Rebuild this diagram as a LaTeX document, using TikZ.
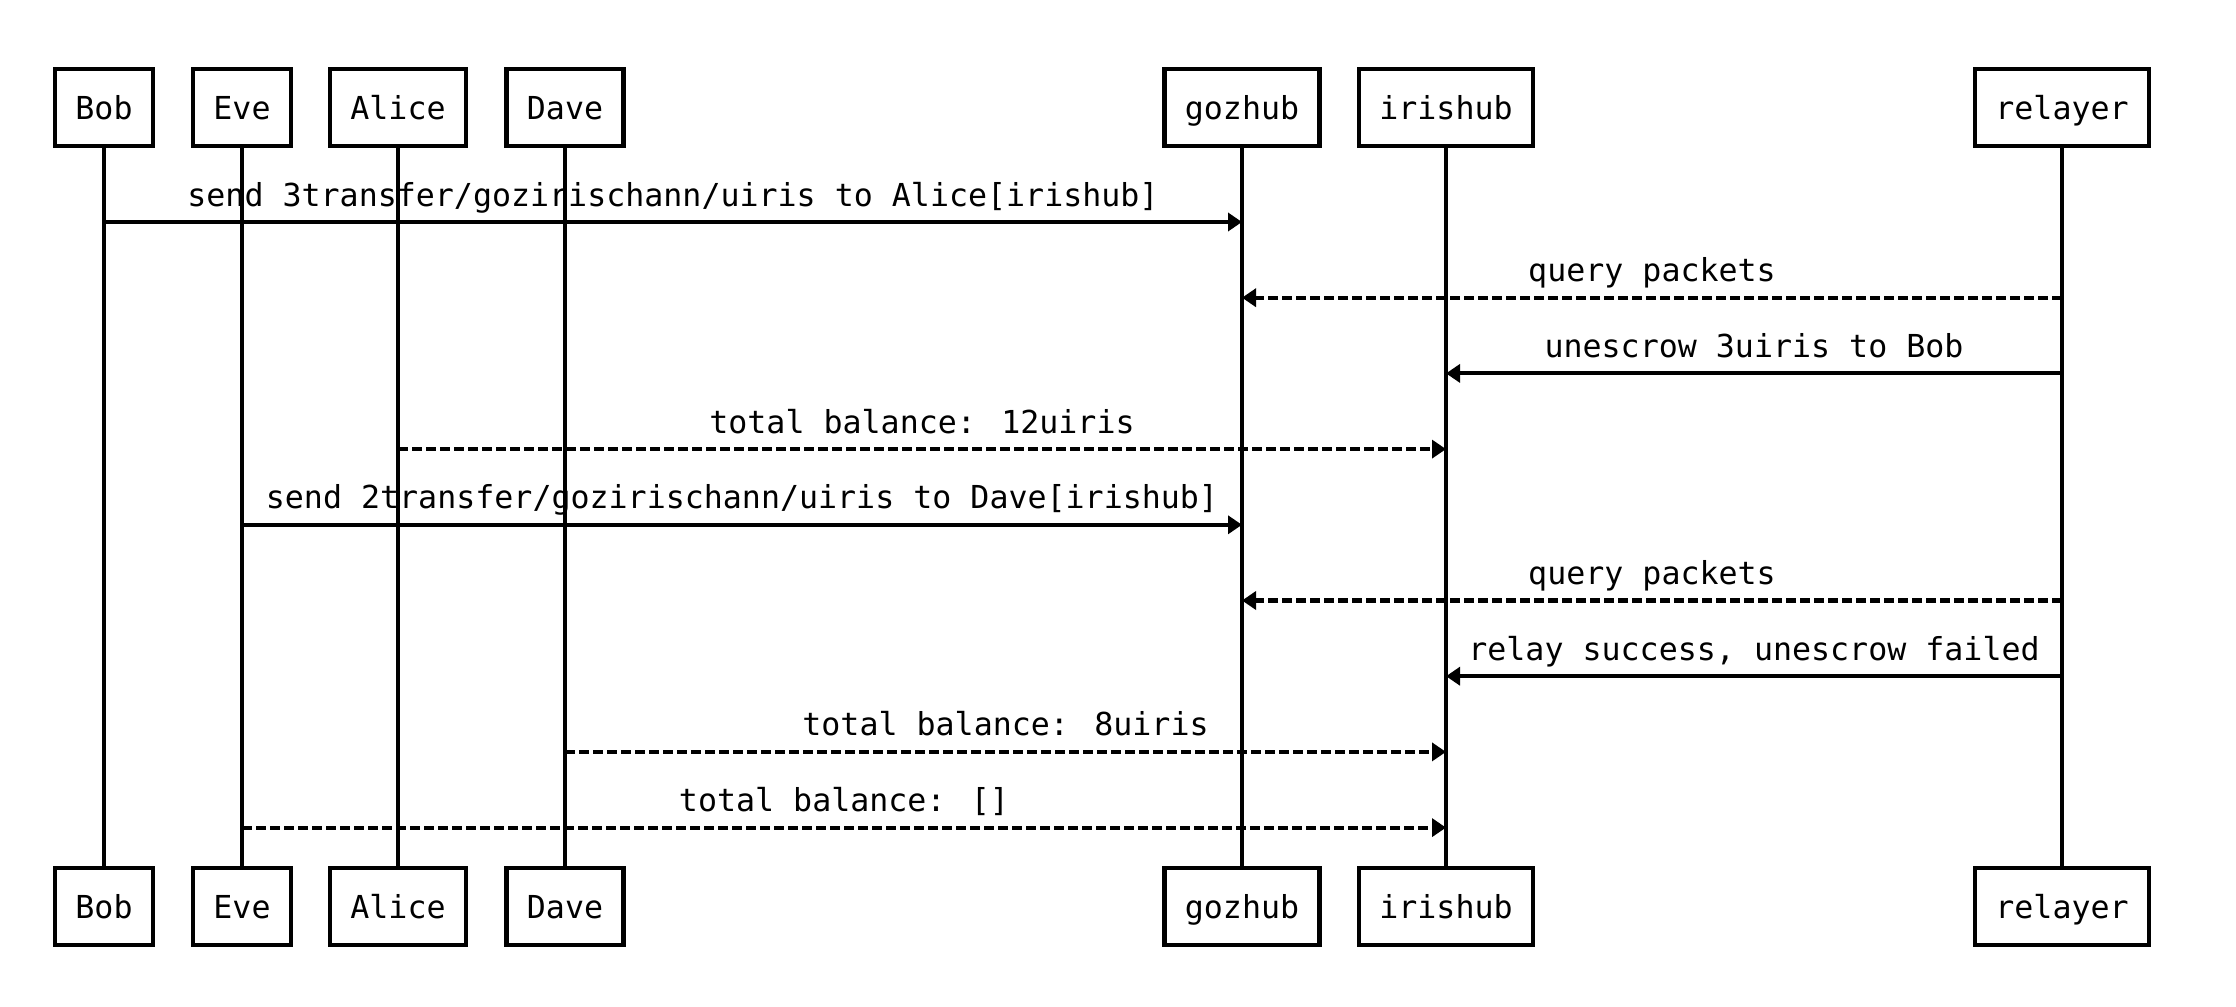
\documentclass[tikz,border=0pt]{standalone}
\usepackage{fontspec}
\newfontfamily\seqfont{DejaVu Sans Mono}
\usetikzlibrary{arrows.meta,positioning}

\begin{document}
\begin{tikzpicture}[
    actor/.style={rectangle,draw,line width=2.6pt,inner xsep=0.41cm,minimum height=1.54cm,
      text height=0.56cm,text depth=0.1cm,font=\seqfont\fontsize{18}{21}\selectfont},
    life/.style={line width=2pt},
    call/.style={-{Triangle[length=0.28cm,width=0.36cm]},line width=2.3pt},
    reply/.style={call,dash pattern=on 0.2cm off 0.08cm},
    lbl/.style={anchor=base,yshift=0.32cm,inner sep=0pt,font=\seqfont\fontsize{18}{21}\selectfont},
    node distance=3cm]
	\useasboundingbox (0,0) rectangle (44.72,-20.12);

	\node[actor] at (2.08,-2.15) (bob) {Bob};
	\node[actor,right of=bob,node distance=2.76cm] (eve) {Eve};
	\node[actor,right of=eve,node distance=3.12cm] (alice) {Alice};
	\node[actor,right of=alice,node distance=3.34cm] (dave) {Dave};
	\node[actor,right of=dave,node distance=13.54cm] (goz) {gozhub};
	\node[actor,right of=goz,node distance=4.08cm] (iris) {irishub};
	\node[actor,right of=iris,node distance=12.32cm] (relay) {relayer};

	\node[actor,below of=bob,node distance=15.98cm] (bob2) {Bob};
	\node[actor,below of=eve,node distance=15.98cm] (eve2) {Eve};
	\node[actor,below of=alice,node distance=15.98cm] (alice2) {Alice};
	\node[actor,below of=dave,node distance=15.98cm] (dave2) {Dave};
	\node[actor,below of=goz,node distance=15.98cm] (goz2) {gozhub};
	\node[actor,below of=iris,node distance=15.98cm] (iris2) {irishub};
	\node[actor,below of=relay,node distance=15.98cm] (relay2) {relayer};

	\draw[life] (bob) -- (bob2);
	\draw[life] (eve) -- (eve2);
	\draw[life] (alice) -- (alice2);
	\draw[life] (dave) -- (dave2);
	\draw[life] (goz) -- (goz2);
	\draw[life] (iris) -- (iris2);
	\draw[life] (relay) -- (relay2);

	% message rows
	\coordinate (r1) at (0,-4.44);
	\coordinate (r2) at (0,-5.954);
	\coordinate (r3) at (0,-7.468);
	\coordinate (r4) at (0,-8.982);
	\coordinate (r5) at (0,-10.496);
	\coordinate (r6) at (0,-12.01);
	\coordinate (r7) at (0,-13.524);
	\coordinate (r8) at (0,-15.038);
	\coordinate (r9) at (0,-16.552);

	\draw[call] (bob |- r1) -- node[lbl] {send 3transfer/gozirischann/uiris to Alice[irishub]} (goz |- r1);
	\draw[reply] (relay |- r2) -- node[lbl] {query packets} (goz |- r2);
	\draw[call] (relay |- r3) -- node[lbl] {unescrow 3uiris to Bob} (iris |- r3);
	\draw[reply] (alice |- r4) -- node[lbl] {total balance: 12uiris} (iris |- r4);
	\draw[call] (eve |- r5) -- node[lbl] {send 2transfer/gozirischann/uiris to Dave[irishub]} (goz |- r5);
	\draw[reply] (relay |- r6) -- node[lbl] {query packets} (goz |- r6);
	\draw[call] (relay |- r7) -- node[lbl] {relay success, unescrow failed} (iris |- r7);
	\draw[reply] (dave |- r8) -- node[lbl] {total balance: 8uiris} (iris |- r8);
	\draw[reply] (eve |- r9) -- node[lbl] {total balance: []} (iris |- r9);
\end{tikzpicture}
\end{document}
